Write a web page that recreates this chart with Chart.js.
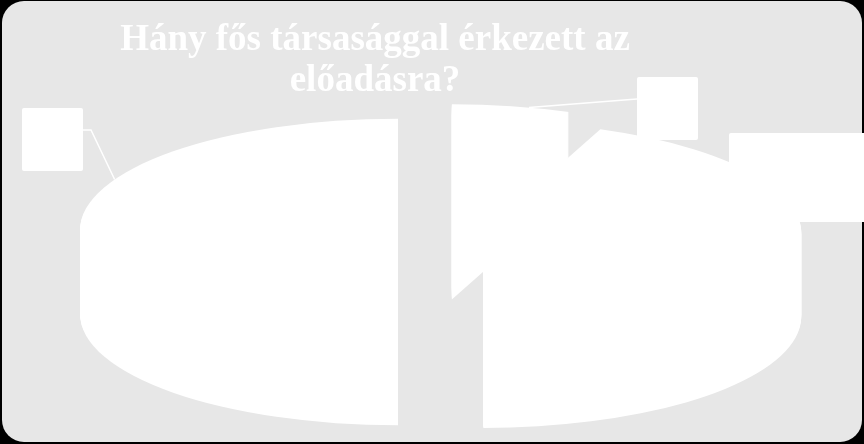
<!DOCTYPE html>
<html lang="hu">
<head>
<meta charset="utf-8">
<title>Hány fős társasággal érkezett az előadásra?</title>
<script src="https://cdn.jsdelivr.net/npm/chart.js@4.4.1/dist/chart.umd.min.js"></script>
<style>
  html, body { margin: 0; padding: 0; background: #000; }
  #wrap { width: 864px; height: 444px; }
</style>
</head>
<body>
<div id="wrap"><canvas id="chart" width="864" height="444"></canvas></div>
<script>
// Adatok
const categories = ['Egyedül', '2 fő', '3 vagy több fő'];
const values = [6, 44, 50];
const percentLabels = ['6%', '44%', '50%'];

const titleLines = ['Hány fős társasággal érkezett az', 'előadásra?'];

// 3D pite elrendezése (kép pixelben)
const pie3d = { cx: 444, cy: 230, rx: 318, tilt: 0.35, depth: 84, explode: [42, 40, 46], anchorAt: 0.65 };

// címkedobozok, a szeletek sorrendjében
const labelBoxes = [
  { x: 637, y: 77, w: 61, h: 63, leader: 'left' },
  { x: 729, y: 133, w: 140, h: 89, leader: null },
  { x: 22, y: 108, w: 61, h: 63, leader: 'right' }
];

// háttér panel
const panelPlugin = {
  id: 'panel',
  beforeDraw(chart) {
    const ctx = chart.ctx;
    ctx.save();
    ctx.fillStyle = '#000';
    ctx.fillRect(0, 0, chart.width, chart.height);
    ctx.fillStyle = '#e7e7e7';
    ctx.beginPath();
    ctx.roundRect(2, 1, 860, 441, 22);
    ctx.fill();
    ctx.restore();
  }
};

function arcShift(arc, i) {
  const mid = (arc.startAngle + arc.endAngle) / 2;
  const e = pie3d.explode[i];
  return {
    dx: Math.cos(mid) * e,
    dy: Math.sin(mid) * e * pie3d.tilt
  };
}

function rimPoint(arc, i, frac) {
  const p = arcShift(arc, i);
  const a = arc.startAngle + frac * (arc.endAngle - arc.startAngle);
  return {
    x: pie3d.cx + p.dx + pie3d.rx * Math.cos(a),
    y: pie3d.cy + p.dy + pie3d.rx * pie3d.tilt * Math.sin(a)
  };
}

// a szeletek kihúzása lapos, vastag korongra
const pie3dPlugin = {
  id: 'pie3d',
  beforeDatasetsDraw(chart) {
    const ctx = chart.ctx;
    const arcs = chart.getDatasetMeta(0).data;
    for (let d = pie3d.depth; d >= 0; d--) {
      arcs.forEach((arc, i) => {
        const s = pie3d.rx / arc.outerRadius;
        const p = arcShift(arc, i);
        ctx.save();
        ctx.translate(pie3d.cx + p.dx, pie3d.cy + p.dy + d);
        ctx.scale(s, s * pie3d.tilt);
        ctx.translate(-arc.x, -arc.y);
        arc.draw(ctx);
        ctx.restore();
      });
    }
    return false;
  },
  afterDraw(chart) {
    const ctx = chart.ctx;
    const arcs = chart.getDatasetMeta(0).data;
    ctx.save();
    arcs.forEach((arc, i) => {
      const box = labelBoxes[i];
      if (!box) return;
      ctx.strokeStyle = '#fff';
      ctx.lineWidth = 1.5;
      if (box.leader) {
        const a = rimPoint(arc, i, pie3d.anchorAt);
        ctx.beginPath();
        if (box.leader === 'right') {
          ctx.moveTo(box.x + box.w, box.y + 22);
          ctx.lineTo(box.x + box.w + 8, box.y + 22);
        } else {
          ctx.moveTo(box.x, box.y + 22);
        }
        ctx.lineTo(a.x, a.y);
        ctx.stroke();
      }
      ctx.fillStyle = '#fff';
      ctx.beginPath();
      ctx.roundRect(box.x, box.y, box.w, box.h, 2);
      ctx.fill();
      // adatfelirat (fehér a fehéren, mint az eredetin)
      ctx.save();
      ctx.beginPath();
      ctx.rect(box.x, box.y, box.w, box.h);
      ctx.clip();
      ctx.fillStyle = '#fff';
      ctx.font = '11px "Liberation Serif"';
      ctx.textAlign = 'center';
      ctx.fillText(categories[i], box.x + box.w / 2, box.y + box.h / 2 - 4);
      ctx.fillText(percentLabels[i], box.x + box.w / 2, box.y + box.h / 2 + 12);
      ctx.restore();
    });
    ctx.restore();
  }
};

const chartConfig = {
  type: 'pie',
  data: {
    labels: categories,
    datasets: [{
      data: values,
      backgroundColor: '#ffffff',
      borderWidth: 0,
      hoverOffset: 0
    }]
  },
  options: {
    responsive: false,
    animation: false,
    devicePixelRatio: 1,
    layout: { padding: { right: 114 } },
    plugins: {
      legend: { display: false },
      tooltip: { enabled: false },
      title: {
        display: true,
        text: titleLines,
        color: '#ffffff',
        font: { family: '"Liberation Serif"', size: 37, weight: 'bold', lineHeight: 1.1 },
        padding: { top: 20, bottom: 10 }
      }
    }
  },
  plugins: [panelPlugin, pie3dPlugin]
};

new Chart(document.getElementById('chart'), chartConfig);
</script>
</body>
</html>
